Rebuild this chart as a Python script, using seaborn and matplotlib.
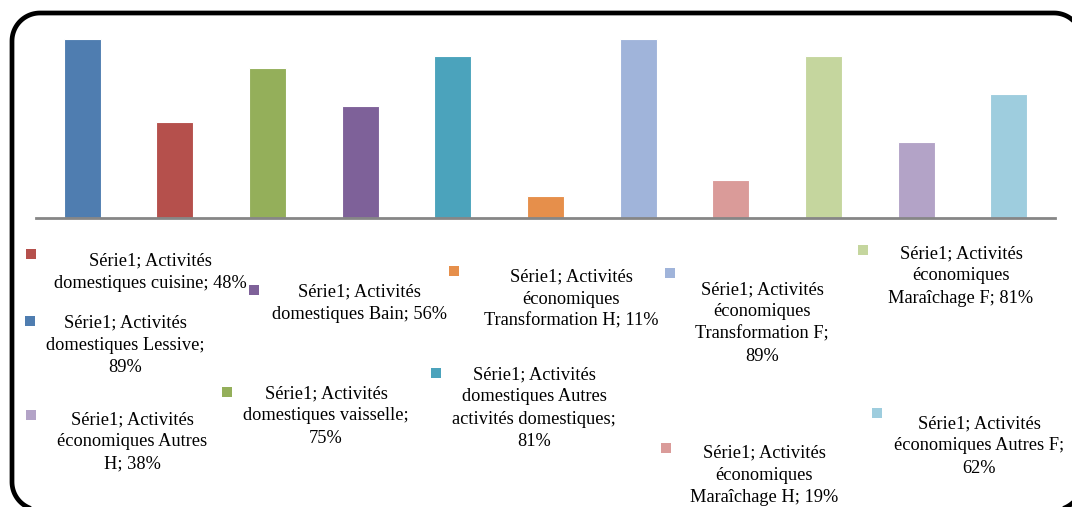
import matplotlib
matplotlib.use("Agg")
import matplotlib.pyplot as plt
import seaborn as sns
import pandas as pd
import numpy as np
from matplotlib.patches import Rectangle
from matplotlib.lines import Line2D
from matplotlib.transforms import IdentityTransform

# ---- data ----
series_name = "Série1"
categories = [
    "Activités domestiques Lessive",
    "Activités domestiques cuisine",
    "Activités domestiques vaisselle",
    "Activités domestiques Bain",
    "Activités domestiques Autres activités domestiques",
    "Activités économiques Transformation H",
    "Activités économiques Transformation F",
    "Activités économiques Maraîchage H",
    "Activités économiques Maraîchage F",
    "Activités économiques Autres H",
    "Activités économiques Autres F",
]
values = [89, 48, 75, 56, 81, 11, 89, 19, 81, 38, 62]
colors = ["#4F7DB0", "#B5504C", "#94AF5A", "#7E6199", "#4BA3BC", "#E68F4B",
          "#A0B4DA", "#DA9B99", "#C5D69E", "#B3A3C7", "#9ECDDE"]

# ---- layout (pixels in a 1072x507 canvas) ----
W, H = 1072, 507
words_per_line = [[2, 2, 1], [2, 3], [2, 2, 1], [2, 3], [2, 2, 2, 1], [2, 1, 3],
                  [2, 1, 2, 1], [2, 1, 3], [2, 1, 3], [2, 2, 2], [2, 3, 1]]
text_pos = [(125, 345), (150, 272), (326, 416), (359, 303), (534, 408), (571, 299),
            (762, 323), (764, 475), (961, 276), (132, 442), (979, 446)]
marker_pos = [(30, 321), (31, 254), (227, 392), (254, 290), (436, 373), (454, 271),
              (670, 273), (666, 448), (863, 250), (31, 415), (877, 413)]

sns.set_theme(style="white")
plt.rcParams['font.family'] = ['Liberation Serif', 'DejaVu Serif']

fig = plt.figure(figsize=(W / 100, H / 100), dpi=100)
fig.patch.set_facecolor("white")

ax_left, ax_right, base_y, top_y = 36, 1055, 218, 17.4
ax = fig.add_axes([ax_left / W, 1 - base_y / H, (ax_right - ax_left) / W, (base_y - top_y) / H])

df = pd.DataFrame({"cat": categories, "val": values})
sns.barplot(data=df, x="cat", y="val", hue="cat", palette=colors, order=categories,
            hue_order=categories, legend=False, width=0.4, ax=ax,
            edgecolor="white", linewidth=0.8, saturation=1)
ax.set_ylim(0, 100)
ax.set_xlim(-0.5, len(categories) - 0.5)
ax.set_xticks([])
ax.set_yticks([])
ax.set_xlabel("")
ax.set_ylabel("")
ax.set_facecolor("none")
for s in ["top", "right", "left"]:
    ax.spines[s].set_visible(False)
ax.spines["bottom"].set_color("#868686")
ax.spines["bottom"].set_linewidth(2)

# labels
for i, (cat, v) in enumerate(zip(categories, values)):
    words = f"{series_name}; {cat}; {v}%".split(" ")
    lines, k = [], 0
    for n in words_per_line[i]:
        lines.append(" ".join(words[k:k + n]))
        k += n
    tx, ty = text_pos[i]
    fig.text(tx / W, 1 - ty / H, "\n".join(lines), ha="center", va="center",
             multialignment="center", fontsize=13.2, color="black", linespacing=1.4)
    mx, my = marker_pos[i]
    fig.patches.append(Rectangle(((mx - 5) / W, 1 - (my + 5) / H), 10 / W, 10 / H,
                                 transform=fig.transFigure, facecolor=colors[i],
                                 edgecolor="none"))

# rounded frame as an open outline (pixel coords, y measured from top)
fx0, fy0, fx1, fy1, r = 12, 13, 1082, 510, 28
def arc(cx, cy, a0, a1, n=24):
    t = np.linspace(np.radians(a0), np.radians(a1), n)
    return list(zip(cx + r * np.cos(t), cy - r * np.sin(t)))
pts = []
pts += arc(fx1 - r, fy1 - r, 0, -90)      # bottom-right
pts += arc(fx0 + r, fy1 - r, 270, 180)    # bottom-left
pts += arc(fx0 + r, fy0 + r, 180, 90)     # top-left
pts += arc(fx1 - r, fy0 + r, 90, 0)       # top-right
pts.append(pts[0])
px = np.array([p[0] for p in pts])
py = H - np.array([p[1] for p in pts])
frame = Line2D(px, py, transform=IdentityTransform(), color="black", linewidth=3.4,
               solid_joinstyle="round", solid_capstyle="round")
fig.lines.append(frame)

fig.savefig("out.png", dpi=100)
